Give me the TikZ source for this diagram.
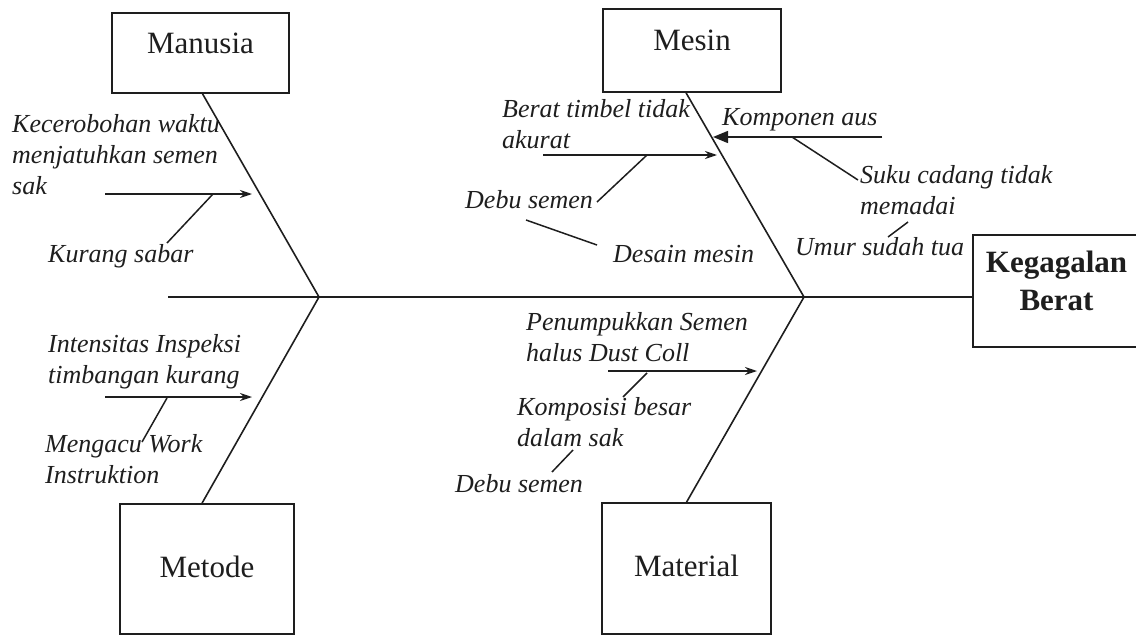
\documentclass[tikz,border=0pt]{standalone}
\usepackage{fontspec}
\setmainfont{Liberation Serif}
\usetikzlibrary{arrows.meta,calc}
\definecolor{ink}{HTML}{1E1E1E}
% stacked lines whose baseline is the baseline of the first line
\newcommand{\firstlinestack}[1]{\vtop{\halign{##\hfil\cr#1\crcr}}}
\newcommand{\centredstack}[1]{\vtop{\halign{\hfil##\hfil\cr#1\crcr}}}
\begin{document}
\begin{tikzpicture}[x=1pt,y=-1pt,
  catbox/.style={draw=ink, line width=1.5pt, rectangle, inner sep=0pt,
    font=\fontsize{31}{38}\selectfont, text=ink},
  cause/.style={inner sep=0pt, anchor=base west,
    font=\fontsize{26}{31}\selectfont\itshape, text=ink},
  bone/.style={draw=ink, line width=1.6pt},
  twig/.style={draw=ink, line width=1.5pt},
  causearrow/.style={draw=ink, line width=1.5pt, -{Stealth[length=12pt,width=8pt]}},
  solidarrow/.style={draw=ink, fill=ink, line width=1.5pt, -{Triangle[length=15pt,width=12pt]}}
]
\useasboundingbox (0,0) rectangle (1136,637);

% category boxes and the effect box
\node[catbox, minimum width=177pt, minimum height=80pt, text height=20pt, text depth=20pt]
  (man) at (200.5,53) {Manusia};
\node[catbox, minimum width=178pt, minimum height=83pt, text height=20pt, text depth=20pt]
  (mes) at (692,50.5) {Mesin};
\node[catbox, minimum width=174pt, minimum height=130pt, text height=22pt, text depth=6pt]
  (met) at (207,569) {Metode};
\node[catbox, minimum width=169pt, minimum height=131pt, text height=22pt, text depth=6pt]
  (mat) at (686.5,568.5) {Material};
\node[catbox, minimum width=167pt, minimum height=112pt, text height=21pt, text depth=59pt,
  font=\fontsize{31}{38}\selectfont\bfseries]
  (eff) at (1056.5,291) {\centredstack{Kegagalan\cr Berat}};

% spine
\coordinate (tail) at (168,297);
\coordinate (jL) at (319,297);
\coordinate (jR) at (804,297);
\draw[bone] (tail) -- (eff.west |- tail);

% main bones
\draw[bone] ([xshift=2pt]man.south) -- (jL);
\draw[bone] ([xshift=-6pt]mes.south) -- (jR);
\draw[bone] ([xshift=-5pt]met.north) -- (jL);
\draw[bone] (mat.north) -- (jR);

% Manusia causes
\node[cause] (c1) at (12,132) {\firstlinestack{Kecerobohan waktu\cr menjatuhkan semen\cr sak}};
\node[cause] (c2) at (48,262) {Kurang sabar};
\coordinate (a1s) at (105,194); \coordinate (a1e) at (252,194);
\coordinate (t1s) at (213,194); \coordinate (t1e) at (167,243);
\draw[causearrow] (a1s) -- (a1e);
\draw[twig] (t1s) -- (t1e);

% Mesin causes
\node[cause] (c3) at (502,117) {\firstlinestack{Berat timbel tidak\cr akurat}};
\node[cause] (c4) at (465,208) {Debu semen};
\node[cause] (c5) at (613,262) {Desain mesin};
\node[cause] (c6) at (722,125) {Komponen aus};
\node[cause] (c7) at (860,183) {\firstlinestack{Suku cadang tidak\cr memadai}};
\node[cause] (c8) at (795,255) {Umur sudah tua};
\coordinate (a2s) at (543,155); \coordinate (a2e) at (717,155);
\coordinate (t2s) at (647,155); \coordinate (t2e) at (597,202);
\coordinate (t3s) at (526,220); \coordinate (t3e) at (597,245);
\coordinate (a3s) at (882,137); \coordinate (a3e) at (713,137);
\coordinate (t4s) at (792,137); \coordinate (t4e) at (858,180);
\coordinate (t5s) at (908,222); \coordinate (t5e) at (888,237);
\draw[causearrow] (a2s) -- (a2e);
\draw[twig] (t2s) -- (t2e);
\draw[twig] (t3s) -- (t3e);
\draw[solidarrow] (a3s) -- (a3e);
\draw[twig] (t4s) -- (t4e);
\draw[twig] (t5s) -- (t5e);

% Metode causes
\node[cause] (c9) at (48,352) {\firstlinestack{Intensitas Inspeksi\cr timbangan kurang}};
\node[cause] (c10) at (45,452) {\firstlinestack{Mengacu Work\cr Instruktion}};
\coordinate (a4s) at (105,397); \coordinate (a4e) at (252,397);
\coordinate (t6s) at (167,398); \coordinate (t6e) at (142,442);
\draw[causearrow] (a4s) -- (a4e);
\draw[twig] (t6s) -- (t6e);

% Material causes
\node[cause] (c11) at (526,330) {\firstlinestack{Penumpukkan Semen\cr halus Dust Coll}};
\node[cause] (c12) at (517,415) {\firstlinestack{Komposisi besar\cr dalam sak}};
\node[cause] (c13) at (455,492) {Debu semen};
\coordinate (a5s) at (608,371); \coordinate (a5e) at (757,371);
\coordinate (t7s) at (647,373); \coordinate (t7e) at (623,397);
\coordinate (t8s) at (573,450); \coordinate (t8e) at (552,472);
\draw[causearrow] (a5s) -- (a5e);
\draw[twig] (t7s) -- (t7e);
\draw[twig] (t8s) -- (t8e);
\end{tikzpicture}
\end{document}
